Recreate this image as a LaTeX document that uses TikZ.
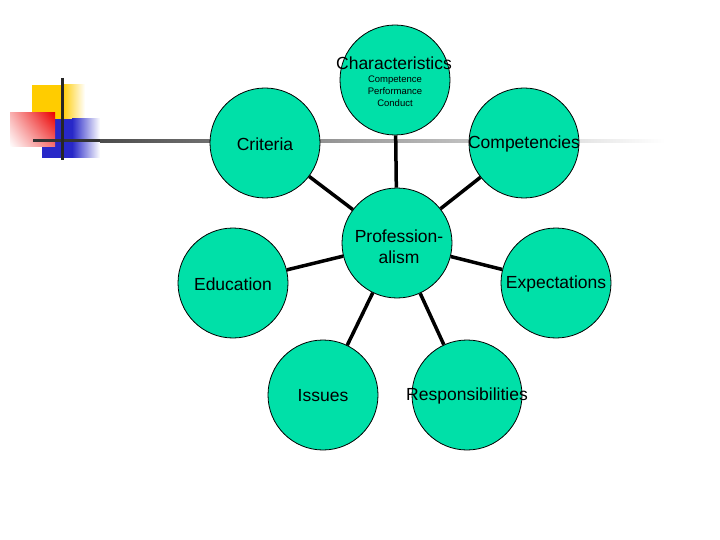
\documentclass[tikz,border=0pt]{standalone}
\usepackage{fontspec}
\usetikzlibrary{shadings}
\setmainfont{Liberation Sans}
\definecolor{bubfill}{RGB}{0,224,168}
\definecolor{decoyellow}{RGB}{255,204,0}
\definecolor{decored}{RGB}{235,0,0}
\definecolor{decoblue}{RGB}{40,40,200}
\begin{document}
\begin{tikzpicture}[x=1pt,y=-1pt,
  bub/.style={circle, draw=black, line width=0.8pt, fill=bubfill, minimum size=110pt, inner sep=0pt},
  lbl/.style={font=\fontsize{17.5}{21}\selectfont, inner sep=0pt, align=center},
  subtxt/.style={font=\fontsize{9.5}{12}\selectfont, inner sep=0pt, align=center},
  conn/.style={line width=3.5pt, black}]
\useasboundingbox (0,0) rectangle (720,540);
\fill[white] (0,0) rectangle (720,540);
% decoration
\fill[decoyellow] (32,85) rectangle (62,125);
\shade[left color=decoyellow, right color=white] (62,85) rectangle (85,125);
\fill[decoblue] (42,119) rectangle (72,158);
\shade[left color=decoblue, right color=white] (72,119) rectangle (100,158);
\shade[upper right=decored, lower right=decored!55!white, upper left=decored!30!white, lower left=white] (10,113) rectangle (55,147);
\fill[black!80] (33,139.5) rectangle (100,142.5);
\shade[left color=black!70, right color=white] (100,139.5) rectangle (665,142.5);
\draw[line width=3pt, black!85] (62,78) -- (62,160);
% bubbles
\node[bub] (char) at (395,80) {};
\node[bub] (crit) at (265,143) {};
\node[bub] (comp) at (524,143) {};
\node[bub] (prof) at (397,243) {};
\node[bub] (educ) at (233,283) {};
\node[bub] (expe) at (556,283) {};
\node[bub] (issu) at (323,395) {};
\node[bub] (resp) at (467,395) {};
% connectors
\draw[conn] (char) -- (prof);
\draw[conn] (crit) -- (prof);
\draw[conn] (comp) -- (prof);
\draw[conn] (educ) -- (prof);
\draw[conn] (expe) -- (prof);
\draw[conn] (issu) -- (prof);
\draw[conn] (resp) -- (prof);
% labels
\node[lbl] (charT) at (394,63) {Characteristics};
\node[subtxt] (charS) at (395,91) {Competence\\Performance\\Conduct};
\node[lbl] (critT) at (265,144) {Criteria};
\node[lbl] (compT) at (524,144) {Competencies};
\node[lbl] (profT) at (399,247) {Profession-\\alism};
\node[lbl] (educT) at (233,284) {Education};
\node[lbl] (expeT) at (556,284) {Expectations};
\node[lbl] (issuT) at (323,396) {Issues};
\node[lbl] (respT) at (467,396) {Responsibilities};
\end{tikzpicture}
\end{document}
